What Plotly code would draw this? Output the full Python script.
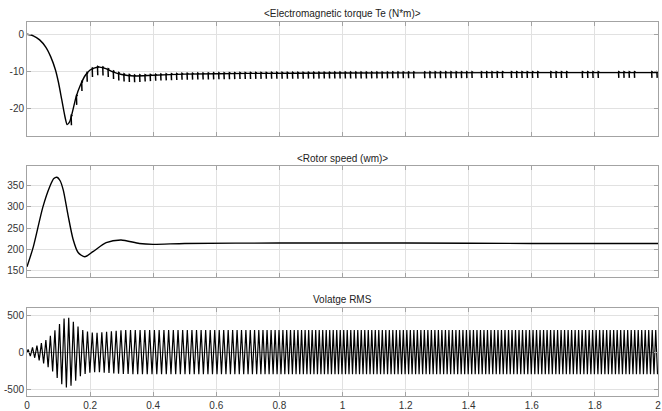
import numpy as np
import plotly.graph_objects as go

# ---------------- data ----------------
# Electromagnetic torque: smooth base curve (time s, N*m)
torque_t = [0, 0.02, 0.04, 0.06, 0.075, 0.09, 0.1, 0.11, 0.12, 0.127, 0.135, 0.145,
            0.155, 0.17, 0.185, 0.2, 0.215, 0.23, 0.25, 0.27, 0.3, 0.34, 0.4, 0.5,
            0.7, 1.0, 1.5, 2.0]
torque_v = [0, -0.4, -1.5, -3.5, -6, -9.5, -13, -17.5, -22, -24.2, -23.5, -20.5,
            -17, -13.5, -11, -9.6, -9.0, -8.8, -9.2, -10, -10.8, -11.2, -11, -10.7,
            -10.5, -10.4, -10.3, -10.3]
# torque ripple spikes: groups (start, end), spacing and depth
torque_spike_start = [0.14, 1.26, 1.36, 1.44, 1.535, 1.66, 1.76, 1.875, 1.98]
torque_spike_end = [1.24, 1.345, 1.415, 1.515, 1.63, 1.72, 1.815, 1.94, 2.0]
torque_spike_spacing = 0.0167
torque_depth_t = [0.14, 0.25, 0.4, 2.0]
torque_depth_v = [2.4, 2.0, 1.5, 1.4]

# Rotor speed (time s, wm)
speed_t = [0, 0.02, 0.05, 0.072, 0.085, 0.095, 0.105, 0.115, 0.13, 0.146, 0.162, 0.183, 0.209,
           0.251, 0.298, 0.356, 0.4, 0.5, 0.8, 1.2, 1.6, 2.0]
speed_v = [160, 206, 298, 346, 365, 368, 360, 338, 280, 224, 193, 183, 195,
           216, 222, 214, 212, 214, 215, 215, 214, 214]

# Voltage RMS: envelope of the oscillation and its frequency
volt_env_t = [0, 0.005, 0.02, 0.04, 0.06, 0.08, 0.095, 0.11, 0.125, 0.14, 0.155,
              0.17, 0.185, 0.2, 0.22, 0.25, 0.28, 0.31, 0.35, 2.0]
volt_env_pos = [0, 60, 70, 110, 170, 250, 340, 430, 490, 450, 380,
                320, 290, 275, 265, 280, 295, 305, 305, 305]
volt_env_neg = [0, -40, -60, -110, -170, -250, -340, -430, -475, -450, -380,
                -320, -290, -275, -265, -275, -285, -292, -295, -295]
volt_freq_t = [0.0, 0.2, 0.4, 0.7, 0.9, 2.0]
volt_freq_hz = [72, 66, 66, 72, 90, 90]

# axis ticks
x_ticks = [0, 0.2, 0.4, 0.6, 0.8, 1, 1.2, 1.4, 1.6, 1.8, 2]
x_tick_text = ["0", "0.2", "0.4", "0.6", "0.8", "1", "1.2", "1.4", "1.6", "1.8", "2"]
torque_ticks = [0, -10, -20]
torque_tick_text = ["0", "-10", "-20"]
speed_ticks = [150, 200, 250, 300, 350]
volt_ticks = [500, 0, -500]
volt_tick_text = ["500", "0", "-500"]

titles = ["<Electromagnetic torque Te (N*m)>", "<Rotor speed (wm)>", "Volatge RMS"]

# ---------------- build traces ----------------
# torque spikes ("r"-shaped ripples)
sx, sy = [], []
for a, b in zip(torque_spike_start, torque_spike_end):
    for ts in np.arange(a, b + 1e-9, torque_spike_spacing):
        base = float(np.interp(ts, torque_t, torque_v))
        d = float(np.interp(ts, torque_depth_t, torque_depth_v))
        sx += [ts + 0.004, ts + 0.0005, ts, ts + 0.0008, None]
        sy += [base + 0.05, base + 0.25, base, base - d, None]

# voltage extremes
tt = np.linspace(0, 2, 20001)
f = np.interp(tt, volt_freq_t, volt_freq_hz)
phase = np.concatenate([[0], np.cumsum(0.5 * (f[1:] + f[:-1]) * np.diff(tt))])
vx, vy = [0.0], [0.0]
k = 1
for i in range(1, len(tt)):
    if phase[i] * 2 >= k - 0.5:
        t_ext = tt[i]
        if k % 2 == 1:
            vy.append(float(np.interp(t_ext, volt_env_t, volt_env_pos)))
        else:
            vy.append(float(np.interp(t_ext, volt_env_t, volt_env_neg)))
        vx.append(float(t_ext))
        k += 1

fig = go.Figure()
fig.add_trace(go.Scatter(x=torque_t, y=torque_v, mode="lines",
                         line=dict(color="black", width=1.4, shape="spline", smoothing=0.6),
                         xaxis="x", yaxis="y", hoverinfo="skip"))
fig.add_trace(go.Scatter(x=sx, y=sy, mode="lines", line=dict(color="black", width=1.5),
                         xaxis="x", yaxis="y", hoverinfo="skip"))
fig.add_trace(go.Scatter(x=speed_t, y=speed_v, mode="lines",
                         line=dict(color="black", width=1.4, shape="spline", smoothing=0.7),
                         xaxis="x2", yaxis="y2", hoverinfo="skip"))
fig.add_trace(go.Scatter(x=vx, y=vy, mode="lines", line=dict(color="black", width=1.2),
                         xaxis="x3", yaxis="y3", hoverinfo="skip"))

W, H = 662, 411
doms = [(1 - 136 / H, 1 - 22 / H), (1 - 277 / H, 1 - 165.7 / H), (1 - 396 / H, 1 - 307.7 / H)]

axcommon = dict(showline=True, linecolor="#a3a3a3", linewidth=1, mirror="ticks",
                ticks="inside", ticklen=4, tickcolor="#a3a3a3",
                showgrid=True, gridcolor="#e1e1e1", gridwidth=1.3, zeroline=False,
                tickfont=dict(family="Liberation Sans, Arial", size=10, color="#333333"),
                automargin=False, fixedrange=True, ticklabeloverflow="allow")

layout = dict(width=W, height=H, margin=dict(l=27, r=4, t=0, b=0),
              plot_bgcolor="white", paper_bgcolor="white", showlegend=False)
for i in range(3):
    sfx = "" if i == 0 else str(i + 1)
    xa = dict(axcommon, domain=[0, 1], range=[0, 2], tickvals=x_ticks, ticktext=x_tick_text,
              anchor="y" + sfx, showticklabels=(i == 2))
    layout["xaxis" + sfx] = xa
yr = [[-27.3, 3.3], [136, 395], [-590, 608]]
yt = [(torque_ticks, torque_tick_text), (speed_ticks, [str(v) for v in speed_ticks]),
      (volt_ticks, volt_tick_text)]
for i in range(3):
    sfx = "" if i == 0 else str(i + 1)
    ya = dict(axcommon, domain=list(doms[i]), range=yr[i], tickvals=yt[i][0], ticktext=yt[i][1],
              anchor="x" + sfx)
    if i == 2:
        ya["zeroline"] = True
        ya["zerolinecolor"] = "#8a8a8a"
        ya["zerolinewidth"] = 1
    layout["yaxis" + sfx] = ya

title_y = [14, 158, 299]
layout["annotations"] = [dict(text=titles[i], x=0.5, xref="paper", y=1 - title_y[i] / H, yref="paper",
                              showarrow=False, xanchor="center", yanchor="middle",
                              font=dict(family="Liberation Sans, Arial", size=10, color="#222222"))
                         for i in range(3)]
fig.update_layout(**layout)
fig.write_html("out.html")
